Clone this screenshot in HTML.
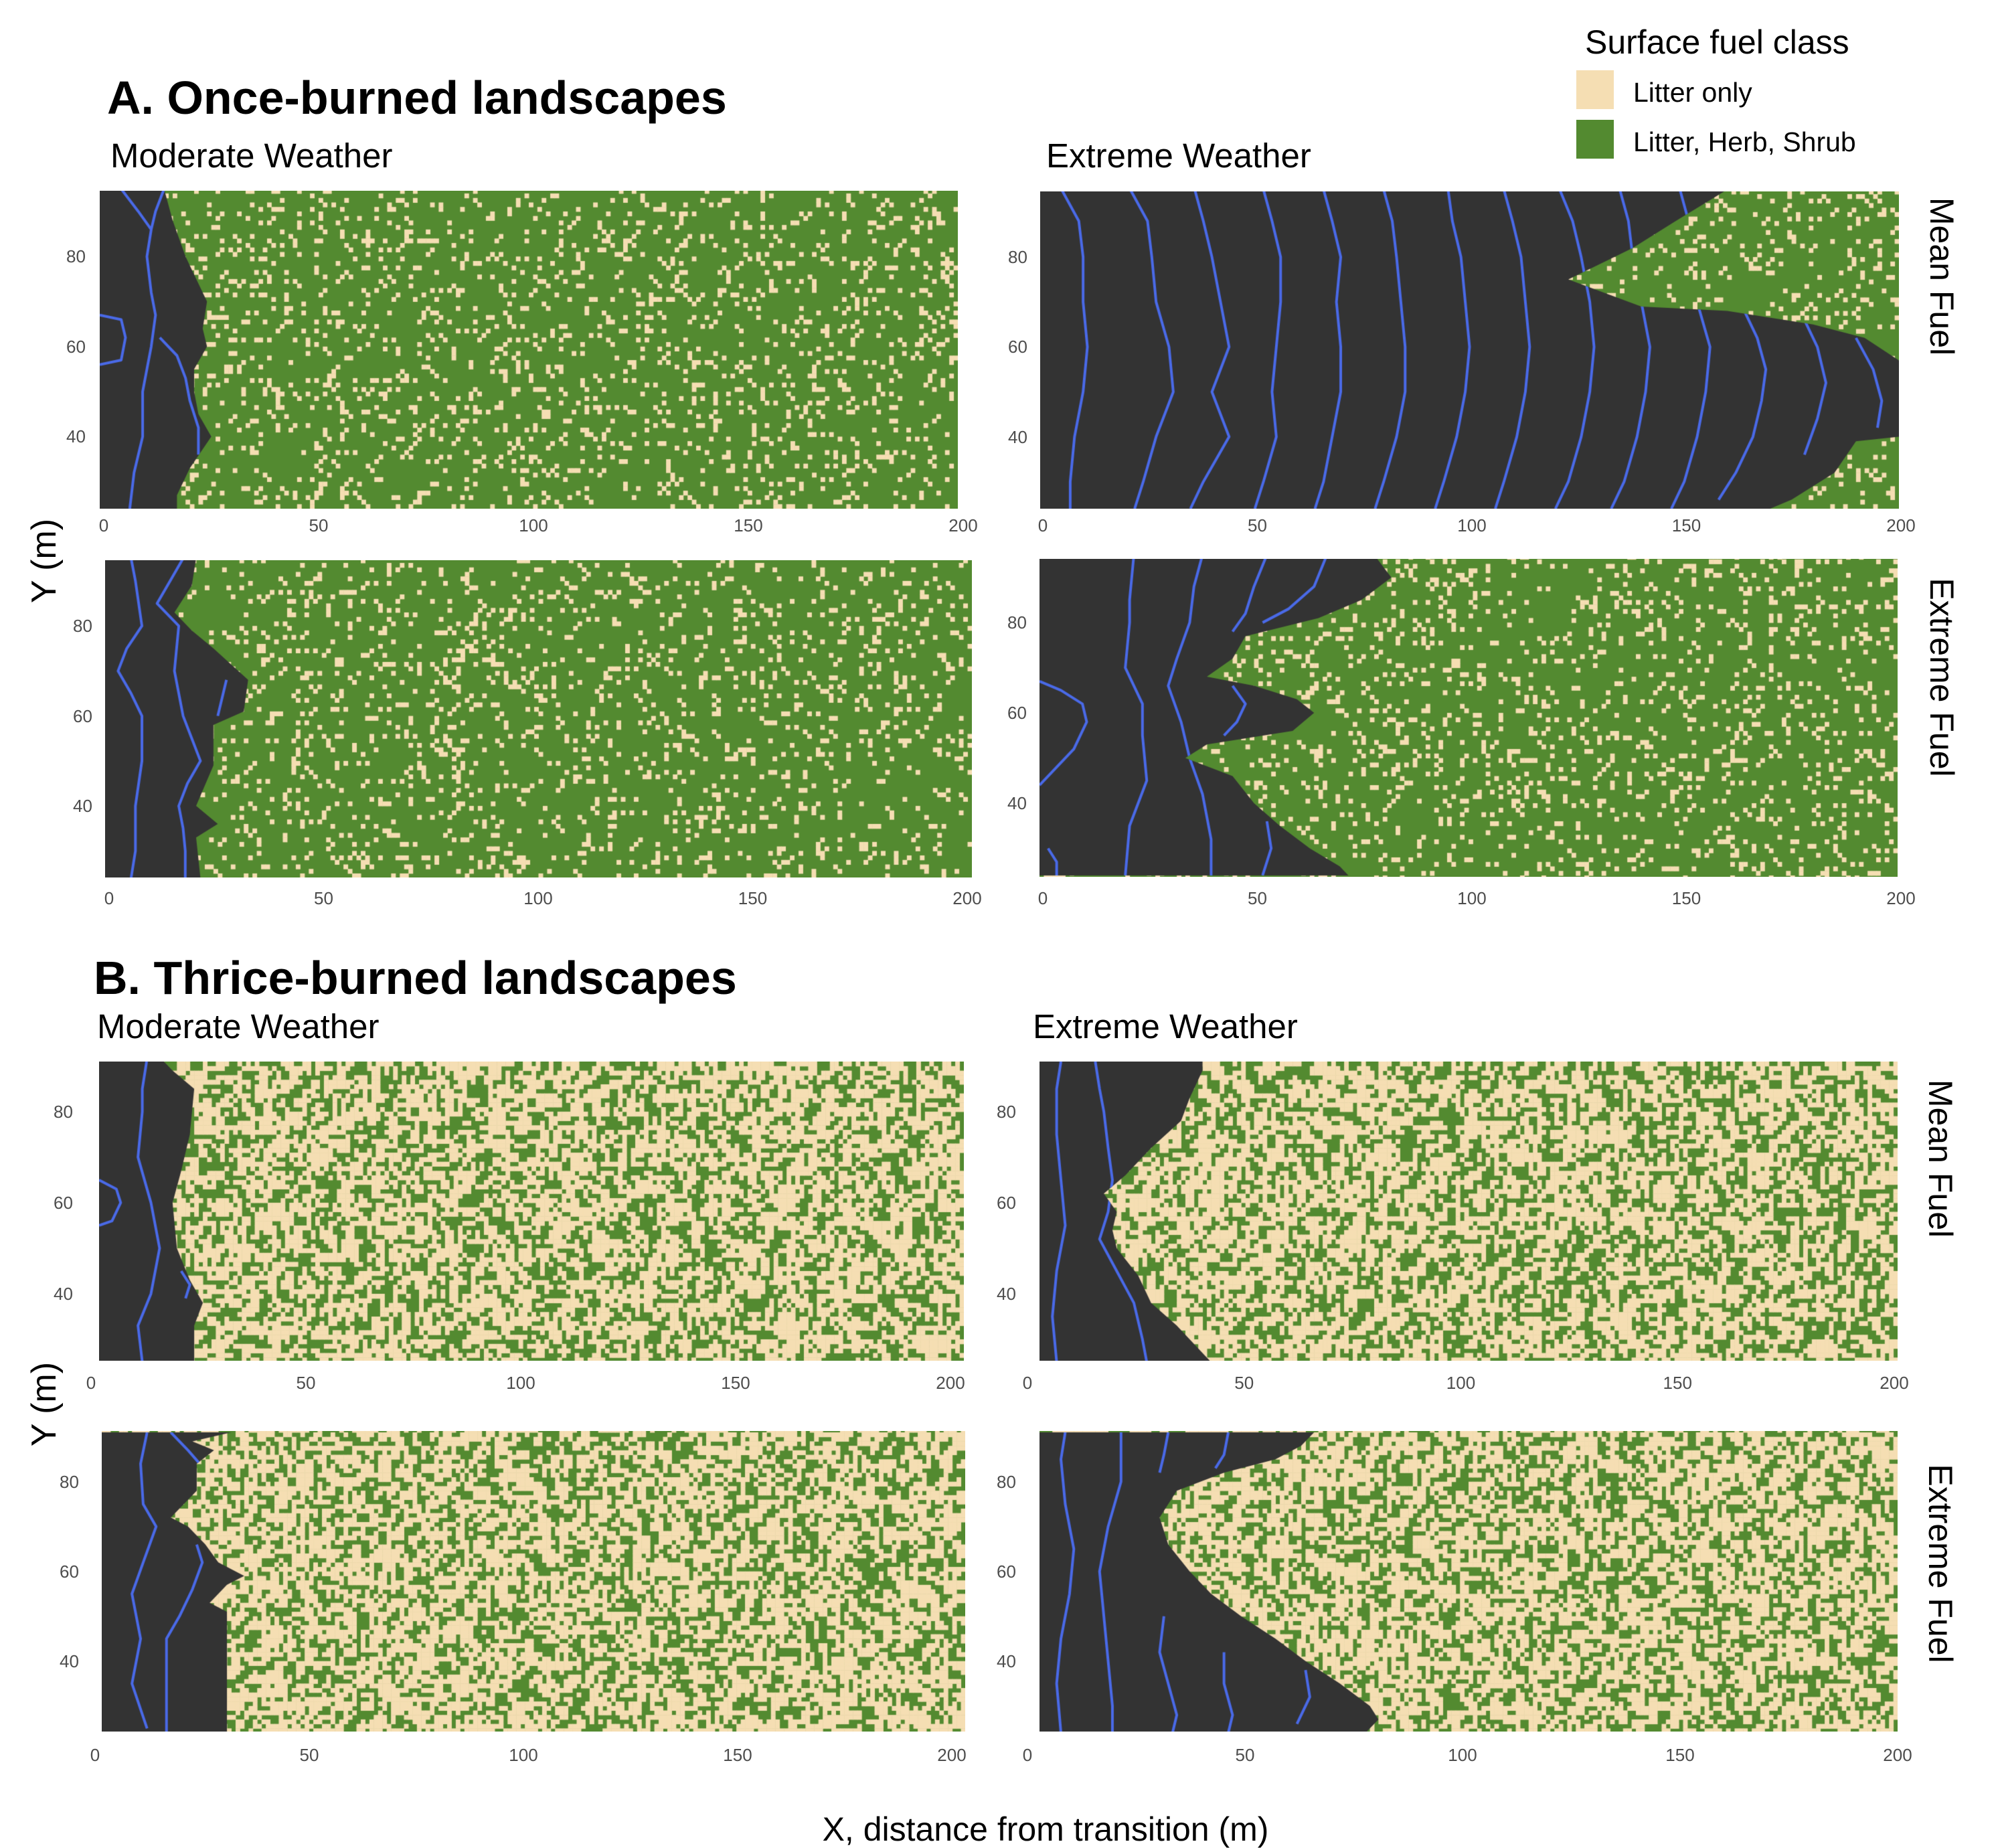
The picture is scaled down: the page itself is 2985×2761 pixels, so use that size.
<!DOCTYPE html>
<html><head><meta charset="utf-8">
<style>
html,body{margin:0;padding:0;background:#fff;}
body{width:2985px;height:2754px;position:relative;overflow:hidden;font-family:"Liberation Sans",sans-serif;}
.t{position:absolute;white-space:nowrap;color:#000;line-height:1;}
.tick{position:absolute;white-space:nowrap;color:#4d4d4d;font-size:26px;line-height:1;}
canvas{position:absolute;}
.strip{position:absolute;writing-mode:vertical-rl;font-size:50px;line-height:1;white-space:nowrap;transform:translate(-50%,-50%);}
.yt{position:absolute;font-size:52px;line-height:1;white-space:nowrap;transform:translate(-50%,-50%) rotate(-90deg);}
</style></head>
<body>
<div class="t" style="left:160px;top:111px;font-size:70px;font-weight:bold;">A. Once-burned landscapes</div>
<div class="t" style="left:140px;top:1426px;font-size:70px;font-weight:bold;">B. Thrice-burned landscapes</div>
<div class="t" style="left:165px;top:207px;font-size:51px;">Moderate Weather</div>
<div class="t" style="left:1563px;top:207px;font-size:51px;">Extreme Weather</div>
<div class="t" style="left:145px;top:1508px;font-size:51px;">Moderate Weather</div>
<div class="t" style="left:1543px;top:1508px;font-size:51px;">Extreme Weather</div>
<div class="t" style="left:2368px;top:38px;font-size:50px;">Surface fuel class</div>
<div style="position:absolute;left:2355px;top:105px;width:56px;height:58px;background:#f5deb3;"></div>
<div style="position:absolute;left:2355px;top:179px;width:56px;height:58px;background:#538a30;"></div>
<div class="t" style="left:2440px;top:118px;font-size:41px;">Litter only</div>
<div class="t" style="left:2440px;top:192px;font-size:41px;">Litter, Herb, Shrub</div>
<div class="strip" style="left:2901px;top:413px;">Mean Fuel</div>
<div class="strip" style="left:2901px;top:1012px;">Extreme Fuel</div>
<div class="strip" style="left:2899px;top:1731px;">Mean Fuel</div>
<div class="strip" style="left:2899px;top:2336px;">Extreme Fuel</div>
<div class="yt" style="left:66px;top:838px;">Y (m)</div>
<div class="yt" style="left:66px;top:2098px;">Y (m)</div>
<div class="t" style="left:1562px;top:2708px;font-size:50px;transform:translateX(-50%);">X, distance from transition (m)</div>

<script>
const xTicks=[0,50,100,150,200];
const yTicks=[40,60,80];
// burned-area outlines [x(m), y(m)]
const burnA1=[[0,95],[15,95],[17,88],[20,80],[22,76],[25,70],[24,64],[25,60],[22,55],[22,50],[23,45],[26,40],[21,33],[18,27],[18,24],[0,24]];
const burnA2=[[0,95],[160,95],[148,88],[138,82],[123,75],[140,69],[160,68],[180,65],[192,62],[200,57],[200,40],[190,39],[185,32],[175,26],[170,24],[0,24]];
const burnA3=[[0,95],[21,95],[20,89],[16,83],[20,79],[25,75],[33,68],[32,61],[25,58],[25,49],[21,40],[26,36],[21,33],[22,24],[0,24]];
const burnA4=[[0,95],[78,95],[82,90],[75,85],[65,81],[48,77],[45,72],[39,68],[50,66],[60,63],[64,60],[59,56],[39,53],[34,50],[45,46],[50,40],[56,35],[63,30],[70,26],[72,24],[0,24]];
const burnB1=[[0,91],[15,91],[17,89],[22,85],[21,75],[19,67],[17,60],[18,50],[21,43],[24,38],[22,33],[22,25],[0,25]];
const burnB2=[[0,91],[38,91],[38,89],[35,83],[33,78],[26,72],[20,66],[15,62],[18,58],[17,54],[18,50],[23,44],[26,38],[32,33],[38,27],[40,25],[0,25]];
const burnB3=[[0,91],[30,91],[21,89],[26,87],[22,84],[22,78],[19,75],[16,72],[20,70],[24,66],[27,62],[33,59],[29,57],[25,53],[29,51],[29,24],[0,24]];
const burnB4=[[0,91],[64,91],[61,88],[55,85],[43,82],[32,78],[28,72],[30,66],[35,60],[40,55],[47,50],[55,45],[62,40],[70,35],[77,30],[79,27],[76,24],[0,24]];
// contour lines [x(m), y(m)]
const contA1=[[[5,95],[9,90],[12,86],[11,80],[12,72],[13,67],[12,60],[11,55],[10,50],[10,40],[8,32],[7,24]],[[15,95],[13,90],[12,86]],[[14,62],[18,58],[20,53],[21,48],[23,42],[23,36]],[[0,67],[5,66],[6,62],[5,57],[0,56]]];
const contA2=[[[5,95],[9,88],[10,80],[10,70],[11,60],[10,50],[8,40],[7,30],[7,24]],[[21,95],[25,88],[26,80],[27,70],[30,60],[31,50],[27,40],[24,30],[22,24]],[[36,95],[38,88],[40,80],[42,70],[44,60],[40,50],[44,40],[38,30],[35,24]],[[52,95],[54,88],[56,80],[56,70],[55,60],[54,50],[55,40],[52,30],[50,24]],[[66,95],[68,88],[70,80],[69,70],[70,60],[70,50],[68,40],[66,30],[64,24]],[[80,95],[82,88],[83,80],[84,70],[85,60],[85,50],[83,40],[80,30],[78,24]],[[95,95],[96,88],[98,80],[99,70],[100,60],[99,50],[97,40],[94,30],[92,24]],[[108,95],[110,88],[112,80],[113,70],[114,60],[113,50],[111,40],[108,30],[106,24]],[[121,95],[124,88],[126,80],[128,70],[129,60],[128,50],[126,40],[123,30],[120,24]],[[135,95],[137,88],[138,80],[140,70],[142,60],[141,50],[139,40],[136,30],[133,24]],[[149,95],[151,88],[150,80],[153,70],[156,60],[155,50],[153,40],[150,30],[147,24]],[[163,70],[167,62],[169,55],[168,48],[166,40],[162,32],[158,26]],[[177,68],[181,60],[183,52],[181,44],[178,36]],[[190,62],[194,55],[196,48],[195,42]]];
const contA3=[[[6,95],[7,90],[8.5,80],[5,75],[3,70],[6,65],[8.5,60],[8.5,50],[7,40],[7,30],[6,24]],[[18,95],[15,90],[12,85],[17,80],[16,70],[18,60],[20,55],[22,50],[19,45],[17,40],[18,35],[18.5,30],[18.5,24]],[[28,68],[27,64],[26,60]]];
const contA4=[[[0,67],[5,65],[10,62],[11,58],[8,52],[3,47],[0,44]],[[22,95],[21,85],[21,80],[20,70],[24,62],[24,55],[25,45],[21,35],[20,24]],[[38,95],[36,88],[35,80],[32,72],[30,66],[33,58],[35,50],[38,42],[40,32],[40,24]],[[53,95],[50,88],[48,82],[45,78]],[[67,95],[64,88],[58,83],[52,80]],[[45,66],[48,62],[46,58],[43,55]],[[53,36],[54,30],[52,24]],[[2,30],[4,27],[4,24]]];
const contB1=[[[11,91],[10,85],[10,80],[9,70],[12,60],[14,50],[12,40],[9,33],[10,25]],[[0,65],[4,63],[5,60],[3,56],[0,55]],[[19,45],[21,42],[20,39]]];
const contB2=[[[5,91],[4,85],[4,75],[5,65],[6,55],[4,45],[3,35],[4,25]],[[13,91],[14,85],[15,80],[16,72],[17,65],[16,58],[14,52],[18,45],[22,38],[24,30],[25,25]]];
const contB3=[[[10.5,91],[9,84],[9.6,75],[12.6,70],[9.6,62],[7,55],[9,45],[7,35],[10.5,25]],[[16,91],[20,87],[22.7,84]],[[22,66],[23.3,62],[21,56],[18,50],[15,45],[15,35],[15,24]]];
const contB4=[[[6,91],[5,85],[6,75],[8,65],[7,55],[5,45],[4,35],[5,24]],[[19,91],[19,85],[19,80],[16,70],[14,60],[15,50],[16,40],[17,30],[17,24]],[[30,91],[29,86],[28,82]],[[29,50],[28,42],[30,35],[32,28],[31,24]],[[44,91],[43,86],[41,83]],[[43,42],[43,35],[45,28],[44,24]],[[62,38],[63,32],[60,26]]];
// landscape fuel: fraction of cells that are "Litter only"
const litterFracOnce=0.13;
const litterFracThrice=0.55;

const panels=[
 {id:'a1',L:149,R:1431,T:285,B:760,y0:24,y1:94.6,lx0:155,lx1:1439,ly:785,yr:130,burn:burnA1,cont:contA1,frac:litterFracOnce,seed:11},
 {id:'a2',L:1554,R:2837,T:286,B:760,y0:24,y1:94.6,lx0:1558,lx1:2840,ly:785,yr:1537,burn:burnA2,cont:contA2,frac:litterFracOnce,seed:23},
 {id:'a3',L:157,R:1452,T:837,B:1311,y0:24.1,y1:94.6,lx0:163,lx1:1445,ly:1342,yr:140,burn:burnA3,cont:contA3,frac:litterFracOnce,seed:37},
 {id:'a4',L:1553,R:2835,T:835,B:1310,y0:23.7,y1:94.1,lx0:1558,lx1:2840,ly:1342,yr:1536,burn:burnA4,cont:contA4,frac:litterFracOnce,seed:41},
 {id:'b1',L:148,R:1440,T:1586,B:2033,y0:25.3,y1:91,lx0:136,lx1:1420,ly:2066,yr:111,burn:burnB1,cont:contB1,frac:litterFracThrice,seed:53},
 {id:'b2',L:1553,R:2835,T:1586,B:2033,y0:25.3,y1:91,lx0:1535,lx1:2830,ly:2066,yr:1520,burn:burnB2,cont:contB2,frac:litterFracThrice,seed:67},
 {id:'b3',L:152,R:1442,T:2138,B:2587,y0:24.3,y1:91.3,lx0:142,lx1:1422,ly:2622,yr:120,burn:burnB3,cont:contB3,frac:litterFracThrice,seed:71},
 {id:'b4',L:1553,R:2835,T:2138,B:2587,y0:24.3,y1:91.3,lx0:1535,lx1:2835,ly:2622,yr:1520,burn:burnB4,cont:contB4,frac:litterFracThrice,seed:83}
];

function hash(i,j,s){let h=(i*374761393+j*668265263+s*982451653)|0;h=(h^(h>>>13))*1274126177|0;h=h^(h>>>16);return ((h>>>0)%10000)/10000;}

panels.forEach(p=>{
  const W=p.R-p.L,H=p.B-p.T;
  const c=document.createElement('canvas');
  c.width=W;c.height=H;c.style.left=p.L+'px';c.style.top=p.T+'px';
  
  
  document.body.appendChild(c);
  const g=c.getContext('2d');
  const sx=x=>x/200*W;
  const sy=y=>(p.y1-y)/(p.y1-p.y0)*H;
  g.fillStyle='#538a30';g.fillRect(0,0,W,H);
  g.fillStyle='#f5deb3';
  const cw=W/200,ch=H/(p.y1-p.y0);
  for(let i=0;i<201;i++){for(let j=Math.floor(p.y0);j<Math.ceil(p.y1);j++){
    let v=hash(i,j,p.seed);
    if(p.frac>0.5){v=(v+hash(i-1,j,p.seed)*0.3+hash(i,j+1,p.seed)*0.3)/1.6;}
    if(v<p.frac) g.fillRect(sx(i),sy(j+1),cw+0.5,ch+0.5);
  }}
  g.save();
  g.beginPath();
  p.burn.forEach((pt,k)=>{const X=sx(pt[0]),Y=sy(pt[1]);k?g.lineTo(X,Y):g.moveTo(X,Y);});
  g.closePath();
  g.fillStyle='#333333';g.fill();
  g.clip();
  g.strokeStyle='#4a6ae8';g.lineWidth=4;g.lineJoin='round';
  p.cont.forEach(line=>{g.beginPath();line.forEach((pt,k)=>{const X=sx(pt[0]),Y=sy(pt[1]);k?g.lineTo(X,Y):g.moveTo(X,Y);});g.stroke();});
  g.restore();
  xTicks.forEach(t=>{
    const d=document.createElement('div');d.className='tick';
    
    
    d.textContent=t;
    d.style.left=(p.lx0+(p.lx1-p.lx0)*t/200)+'px';d.style.top=(p.ly-13)+'px';d.style.transform='translateX(-50%)';
    document.body.appendChild(d);
  });
  yTicks.forEach(t=>{
    const d=document.createElement('div');d.className='tick';
    
    
    d.textContent=t;
    d.style.left=(p.yr-31)+'px';d.style.top=(p.T+sy(t)-13)+'px';
    document.body.appendChild(d);
  });
});
</script>
</body></html>
